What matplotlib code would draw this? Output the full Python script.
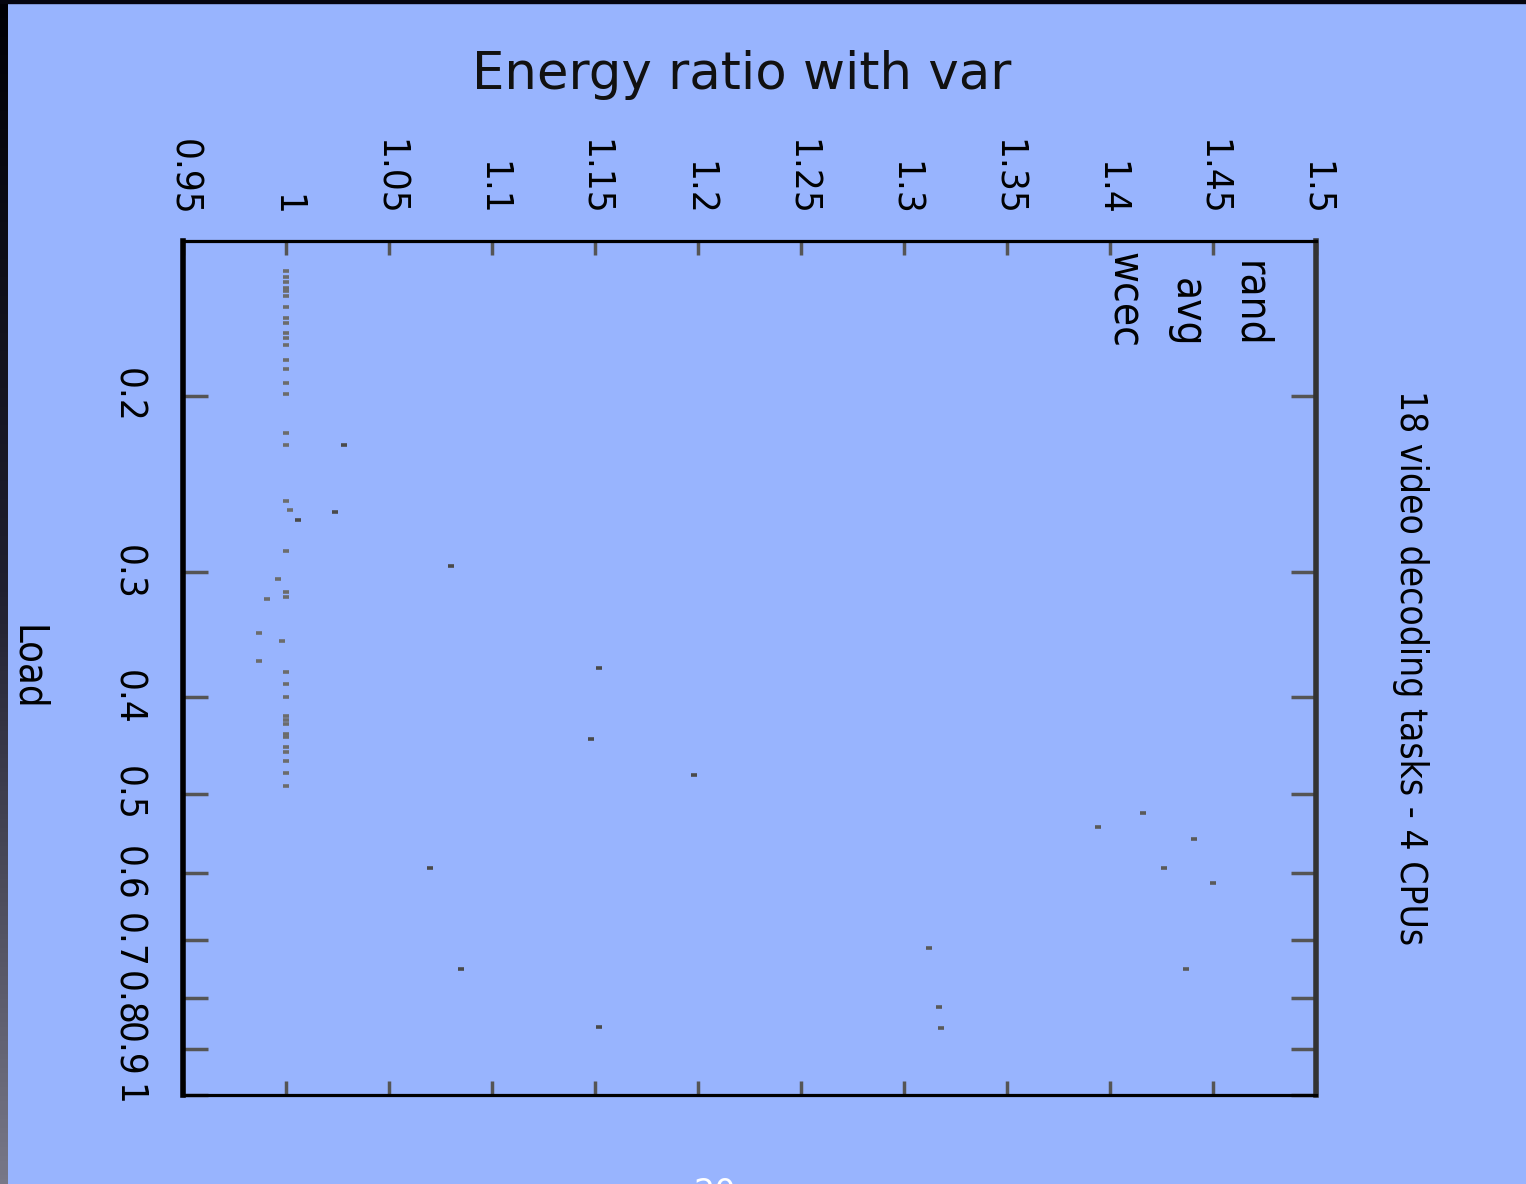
"""
Energy ratio per load for 18 video decoding tasks on 4 CPUs (rotated gnuplot-style page).
"""

import matplotlib

matplotlib.use("Agg")
import matplotlib.pyplot as plt
import numpy as np
from matplotlib import font_manager
from matplotlib.ticker import FixedLocator, NullLocator

W, H = 1526, 1184
BG = "#98b4fe"

# energy ratio (x) and load (y) for each policy
RAND_RATIO = [1.416, 1.394, 1.441, 1.426, 1.450, 1.312, 1.437, 1.317, 1.318]
RAND_LOAD = [0.523, 0.539, 0.555, 0.593, 0.614, 0.713, 0.749, 0.817, 0.857]

AVG_RATIO = [1.028, 1.024, 1.006, 1.080, 1.152, 1.148, 1.198, 1.070, 1.085, 1.152]
AVG_LOAD = [0.224, 0.261, 0.266, 0.296, 0.374, 0.441, 0.479, 0.593, 0.749, 0.856]

WCEC_RATIO = [1.0] * 35 + [1.002, 0.996, 0.991, 0.987, 0.998, 0.987]
WCEC_LOAD = [
    0.150, 0.152, 0.154, 0.156, 0.157, 0.159, 0.163, 0.167, 0.169, 0.173,
    0.175, 0.178, 0.184, 0.188, 0.194, 0.199, 0.218, 0.224, 0.255, 0.286,
    0.314, 0.318, 0.378, 0.388, 0.400, 0.418, 0.422, 0.426, 0.436, 0.439,
    0.449, 0.454, 0.464, 0.476, 0.491,
    0.260, 0.305, 0.319, 0.345, 0.352, 0.368,
]

X_TICKS = [0.95, 1.0, 1.05, 1.1, 1.15, 1.2, 1.25, 1.3, 1.35, 1.4, 1.45, 1.5]
X_LABELS = ["0.95", "1", "1.05", "1.1", "1.15", "1.2", "1.25", "1.3", "1.35", "1.4", "1.45", "1.5"]
Y_TICKS = [0.2, 0.3, 0.4, 0.5, 0.6, 0.7, 0.8, 0.9, 1.0]
Y_LABELS = ["0.2", "0.3", "0.4", "0.5", "0.6", "0.7", "0.8", "0.9", "1"]

SERIES = [
    ("rand", RAND_RATIO, RAND_LOAD, "#5a5a5a", 1238),
    ("avg", AVG_RATIO, AVG_LOAD, "#4a4a4a", 1175),
    ("wcec", WCEC_RATIO, WCEC_LOAD, "#6c6c6c", 1112),
]


def narrow_font():
    fonts = font_manager.fontManager.ttflist
    if any(f.name == "Liberation Sans Narrow" for f in fonts):
        return {"family": "Liberation Sans Narrow"}, 1.0
    if any(f.name == "DejaVu Sans" and str(f.stretch) == "condensed" for f in fonts):
        return {"family": "DejaVu Sans", "fontstretch": "condensed"}, 0.92
    return {"family": "Liberation Sans"}, 0.85


def fx(px):
    return px / W


def fy(py):
    return 1 - py / H


def main():
    font, k = narrow_font()

    fig = plt.figure(figsize=(W / 100, H / 100), dpi=100, facecolor=BG)
    ax = fig.add_axes([fx(183), fy(1095), fx(1316) - fx(183), fy(241) - fy(1095)])
    ax.set_facecolor(BG)

    for name, ratio, load, color, _ in SERIES:
        ax.plot(ratio, load, ls="none", marker="_", ms=4.5, mew=2.6, color=color)

    ax.set_xlim(0.95, 1.5)
    ax.set_yscale("log")
    ax.set_ylim(1.0, 0.14)

    ax.xaxis.set_major_locator(FixedLocator(X_TICKS))
    ax.set_xticklabels(X_LABELS)
    ax.yaxis.set_major_locator(FixedLocator(Y_TICKS))
    ax.yaxis.set_minor_locator(NullLocator())
    ax.set_yticklabels(Y_LABELS)

    ax.tick_params(axis="x", direction="in", top=True, bottom=True,
                   labeltop=True, labelbottom=False, length=10, width=2.5,
                   color="#555555", pad=18)
    ax.tick_params(axis="y", which="both", direction="in", left=True, right=True,
                   labelleft=True, length=18, width=2.5, color="#555555", pad=27)
    for lab in ax.get_xticklabels() + ax.get_yticklabels():
        lab.set_rotation(-90)
        lab.set_fontsize(30 * k)
        lab.set_fontfamily(font["family"])
        if "fontstretch" in font:
            lab.set_fontstretch(font["fontstretch"])
    for lab in ax.get_yticklabels():
        lab.set_verticalalignment("center")

    for side in ("left", "top", "bottom"):
        ax.spines[side].set_color("black")
    ax.spines["left"].set_linewidth(4)
    ax.spines["top"].set_linewidth(2.3)
    ax.spines["bottom"].set_linewidth(2.3)
    ax.spines["right"].set_color("#333333")
    ax.spines["right"].set_linewidth(4)

    # policy names in the top-right corner
    for name, _, _, _, base_x in SERIES:
        fig.text(fx(base_x), fy(348), name, rotation=-90, rotation_mode="anchor",
                 ha="right", va="baseline", fontsize=33 * k, color="black", **font)

    fig.text(fx(742), fy(75), "Energy ratio with var", ha="center", va="center",
             fontsize=37, family="DejaVu Sans", color="#111111")
    fig.text(fx(27), fy(668), "Load", rotation=-90, ha="center", va="center",
             fontsize=31 * k, color="black", **font)
    fig.text(fx(1410), fy(668), "18 video decoding tasks - 4 CPUs", rotation=-90,
             ha="center", va="center", fontsize=29 * k, color="black", **font)
    fig.text(fx(715), fy(1177), "20", ha="center", va="top", fontsize=24,
             color="white", family="DejaVu Sans")

    # dark slide border along the left and top edges
    band = fig.add_axes([0, 0, fx(8), 1])
    grad = np.linspace(0, 1, 256).reshape(-1, 1)
    band.imshow(grad, aspect="auto", cmap=matplotlib.colors.LinearSegmentedColormap.from_list(
        "edge", ["#000005", "#202030", "#787888"]))
    band.set_axis_off()
    fig.patches.append(plt.Rectangle((0, fy(3)), 1, fy(0) - fy(3),
                                     transform=fig.transFigure, color="#05050f", zorder=5))

    fig.savefig("out.png", dpi=100, facecolor=BG)
    plt.close(fig)


if __name__ == "__main__":
    main()
